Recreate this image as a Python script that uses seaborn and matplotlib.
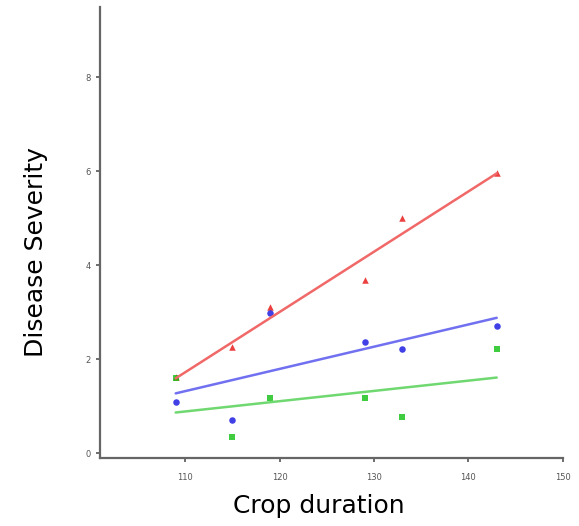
import matplotlib
matplotlib.use("Agg")
import matplotlib.pyplot as plt
import seaborn as sns
import pandas as pd

crop_duration = [109, 115, 119, 129, 133, 143]
severity_red = [1.62, 2.26, 3.12, 3.68, 5.0, 5.96]
severity_blue = [1.1, 0.72, 2.98, 2.36, 2.23, 2.72]
severity_green = [1.6, 0.34, 1.17, 1.17, 0.77, 2.23]

sns.set_style("white")
fig = plt.figure(figsize=(5.79, 5.26), dpi=100)
ax = fig.add_axes([0.173, 0.129, 0.799, 0.858])

series = [
    (severity_red, "^", "#e81010", "#f06868"),
    (severity_blue, "o", "#1010e0", "#7070f0"),
    (severity_green, "s", "#10c010", "#70d870"),
]
for vals, mk, mcol, lcol in series:
    df = pd.DataFrame({"x": crop_duration, "y": vals})
    sns.regplot(data=df, x="x", y="y", ci=None, ax=ax, marker=mk,
                scatter_kws={"color": mcol, "s": 22, "linewidths": 0},
                line_kws={"color": lcol, "lw": 1.8})

ax.set_xlim(101, 150)
ax.set_ylim(-0.1, 9.5)
ax.set_xticks([110, 120, 130, 140, 150])
ax.set_yticks([0, 2, 4, 6, 8])
ax.tick_params(axis="both", labelsize=6, labelcolor="#555555", color="#555555",
               length=3, width=1.2, direction="out", bottom=True, left=True)
ax.tick_params(axis="x", pad=8)
for s in ["top", "right"]:
    ax.spines[s].set_visible(False)
for s in ["left", "bottom"]:
    ax.spines[s].set_color("#666666")
    ax.spines[s].set_linewidth(1.6)
ax.set_xlabel("Crop duration", fontsize=18, color="black", labelpad=8)
ax.set_ylabel("Disease Severity", fontsize=18, color="black", labelpad=27)
ax.xaxis.label.set_x(0.473)
ax.yaxis.label.set_y(0.457)

fig.savefig("out.png", dpi=100)
